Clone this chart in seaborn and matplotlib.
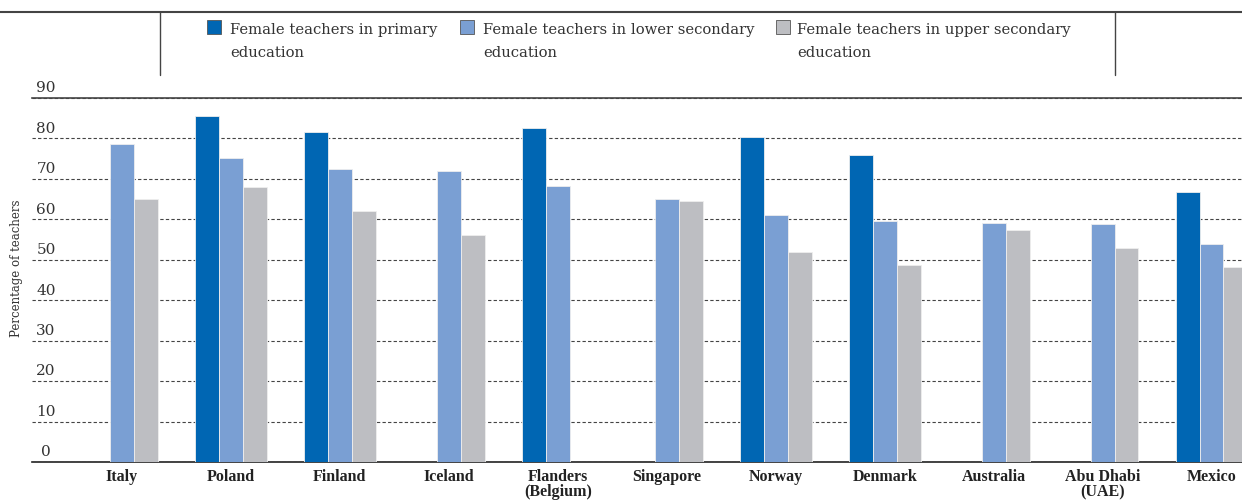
import matplotlib
matplotlib.use("Agg")
import matplotlib.pyplot as plt
from matplotlib.lines import Line2D
from matplotlib.patches import Rectangle
import matplotlib.transforms as mtransforms
import seaborn as sns
import pandas as pd
import numpy as np

countries = ["Italy", "Poland", "Finland", "Iceland", "Flanders\n(Belgium)", "Singapore",
             "Norway", "Denmark", "Australia", "Abu Dhabi\n(UAE)", "Mexico"]
primary = [np.nan, 85.6, 81.7, np.nan, 82.7, np.nan, 80.4, 76.0, np.nan, np.nan, 66.8]
lower_sec = [78.7, 75.2, 72.5, 72.0, 68.3, 65.1, 61.1, 59.7, 59.2, 58.9, 53.9]
upper_sec = [65.1, 68.1, 62.1, 56.2, np.nan, 64.6, 52.0, 48.8, 57.4, 52.8, 48.2]
levels = ["Female teachers in primary\neducation",
          "Female teachers in lower secondary\neducation",
          "Female teachers in upper secondary\neducation"]
colors = ["#0066b3", "#7a9fd3", "#bdbec2"]
yticks = [0, 10, 20, 30, 40, 50, 60, 70, 80, 90]

rows = []
for i, c in enumerate(countries):
    for lev, vals in zip(levels, [primary, lower_sec, upper_sec]):
        rows.append({"country": c, "level": lev, "value": vals[i]})
df = pd.DataFrame(rows).dropna()

sns.set_style("white")
plt.rcParams['font.family'] = ['DejaVu Serif']
txt = "#333333"

fig = plt.figure(figsize=(12.42, 5.02), dpi=100)
ax = fig.add_axes([32/1242, 1-463/502, 1-32/1242, (463-99)/502])

sns.barplot(data=df, x="country", y="value", hue="level", order=countries,
            hue_order=levels, palette=colors, saturation=1, width=0.66, errorbar=None,
            edgecolor="#eeeeee", linewidth=0.6, ax=ax, legend=False, zorder=3)

ax.set_ylim(0, 90)
ax.set_xlim(-0.826, 10.28)
ax.set_yticks(yticks)
ax.set_yticklabels([])
ax.tick_params(axis="y", length=0)
ax.tick_params(axis="x", length=0, pad=4, labelcolor="#222222")
for lab in ax.get_xticklabels():
    lab.set_fontweight("bold")
    lab.set_fontfamily("Liberation Serif")
    lab.set_fontsize(11.5)
    lab.set_linespacing(0.95)
ax.grid(axis="y", linestyle=(0, (3, 2)), color="#444444", linewidth=0.8, zorder=0)
ax.set_axisbelow(True)
for s in ["left", "right"]:
    ax.spines[s].set_visible(False)
ax.spines["top"].set_color("#444444")
ax.spines["top"].set_linewidth(1.2)
ax.spines["bottom"].set_color("#222222")
ax.spines["bottom"].set_linewidth(1.2)

trans = mtransforms.blended_transform_factory(ax.transAxes, ax.transData)
for v in yticks:
    ax.text(14/1210, v + 0.9, str(v), transform=trans, ha="center", va="bottom",
            fontsize=11, color=txt)

ax.set_xlabel("")
ax.set_ylabel("Percentage of teachers", fontsize=8.5, color=txt)
ax.yaxis.set_label_coords(-9/1210, 0.535)

# legend drawn by hand so the squares sit on the first text line
box_x = [207, 460, 776]
text_x = [230, 483, 797]
for bx, tx, c, lab in zip(box_x, text_x, colors, levels):
    fig.add_artist(Rectangle((bx/1242, 1-35/502), 14/1242, 14/502, transform=fig.transFigure,
                             facecolor=c, edgecolor="#555555", linewidth=0.6))
    fig.text(tx/1242, 1-23/502, lab, ha="left", va="top", fontsize=10.6, color=txt,
             linespacing=1.8)

fig.add_artist(Line2D([0, 1], [1-13/502, 1-13/502], transform=fig.transFigure,
                      color="#444444", lw=1.5))
for xp in [160, 1115]:
    fig.add_artist(Line2D([xp/1242, xp/1242], [1-13/502, 1-76/502],
                          transform=fig.transFigure, color="#444444", lw=1))

fig.savefig("out.png", dpi=100)
